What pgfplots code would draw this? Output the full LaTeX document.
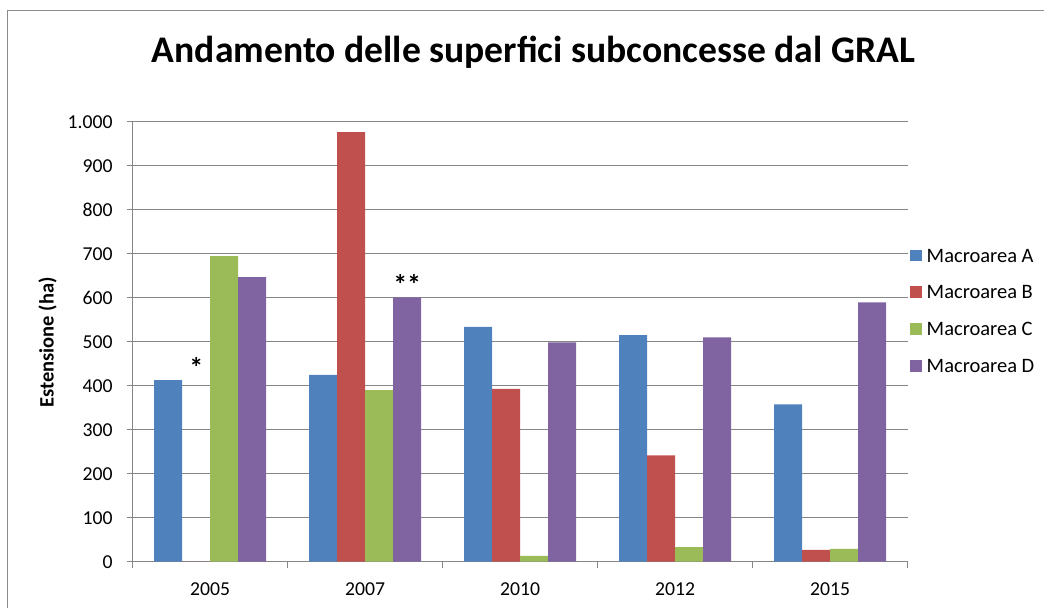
\documentclass[border=0pt]{standalone}
\usepackage{pgfplots}
\pgfplotsset{compat=1.18}
\usepackage{fontspec}
\setmainfont{Carlito}
\definecolor{cA}{HTML}{4F81BD}
\definecolor{cB}{HTML}{C0504D}
\definecolor{cC}{HTML}{9BBB59}
\definecolor{cD}{HTML}{8064A2}
\definecolor{gridc}{HTML}{868686}
\definecolor{framec}{HTML}{8C8C8C}
\pgfplotsset{sqlegend/.style={legend image code/.code={\fill[##1,draw=none] (0bp,-5bp) rectangle (11.7bp,6.7bp);}}}
\begin{document}
\begin{tikzpicture}[x=1bp,y=1bp]
\useasboundingbox (0,0) rectangle (1044,608);
\draw[framec, line width=1.2bp] (7.7,0) -- (7.7,597.3) -- (1044,597.3);
\node[font=\fontsize{37.6bp}{40bp}\selectfont\bfseries, anchor=base, inner sep=0pt] at (533.5,545.7) {Andamento delle superfici subconcesse dal GRAL};
\node[font=\fontsize{20.5bp}{24bp}\selectfont\bfseries, rotate=90, inner sep=0pt] at (47.5,265.5) {Estensione (ha)};
\begin{axis}[
  at={(132.7bp,46.3bp)}, anchor=south west,
  scale only axis, width=775bp, height=439.7bp,
  xmin=-0.5, xmax=4.5, ymin=0, ymax=1000,
  ybar=0pt, bar width=28bp,
  axis x line=bottom, axis y line=left,
  axis line style={-, draw=gridc, line width=1bp},
  xtick={-0.5,0.5,1.5,2.5,3.5,4.5},
  xticklabels={2005,2007,2010,2012,2015},
  x tick label as interval,
  ytick={0,100,...,1000},
  ymajorgrids, grid style={gridc, line width=1bp},
  tick align=outside, major tick length=6bp,
  tick style={gridc, line width=1bp},
  /pgf/number format/.cd, 1000 sep={.}, assume math mode=true, /pgfplots/.cd,
  tick label style={font=\fontsize{19.7bp}{23bp}\selectfont, inner sep=0pt},
  xticklabel style={anchor=north, yshift=-15bp},
  yticklabel style={anchor=east, xshift=-14bp},
  sqlegend,
  legend cell align=left,
  legend style={draw=none, fill=none, at={(1.003,0.569)}, anchor=west, inner sep=0pt, outer sep=0pt,
    row sep=18bp, font=\fontsize{20.5bp}{24bp}\selectfont,
    /tikz/every odd column/.append style={column sep=3bp}},
]
\addplot[fill=cA, draw=none] coordinates {(0,413) (1,425) (2,534) (3,515) (4,358)};
\addplot[fill=cB, draw=none] coordinates {(0,0) (1,977) (2,393) (3,242) (4,27)};
\addplot[fill=cC, draw=none] coordinates {(0,695) (1,390) (2,13) (3,33) (4,29)};
\addplot[fill=cD, draw=none] coordinates {(0,647) (1,601) (2,499) (3,510) (4,590)};
\legend{Macroarea A, Macroarea B, Macroarea C, Macroarea D}
\node[font=\fontsize{28bp}{30bp}\selectfont\bfseries, inner sep=0pt] at (axis cs:-0.09,441) {*};
\node[font=\fontsize{28bp}{30bp}\selectfont\bfseries, inner sep=0pt] at (axis cs:1.271,629.5) {**};
\end{axis}
\end{tikzpicture}
\end{document}
